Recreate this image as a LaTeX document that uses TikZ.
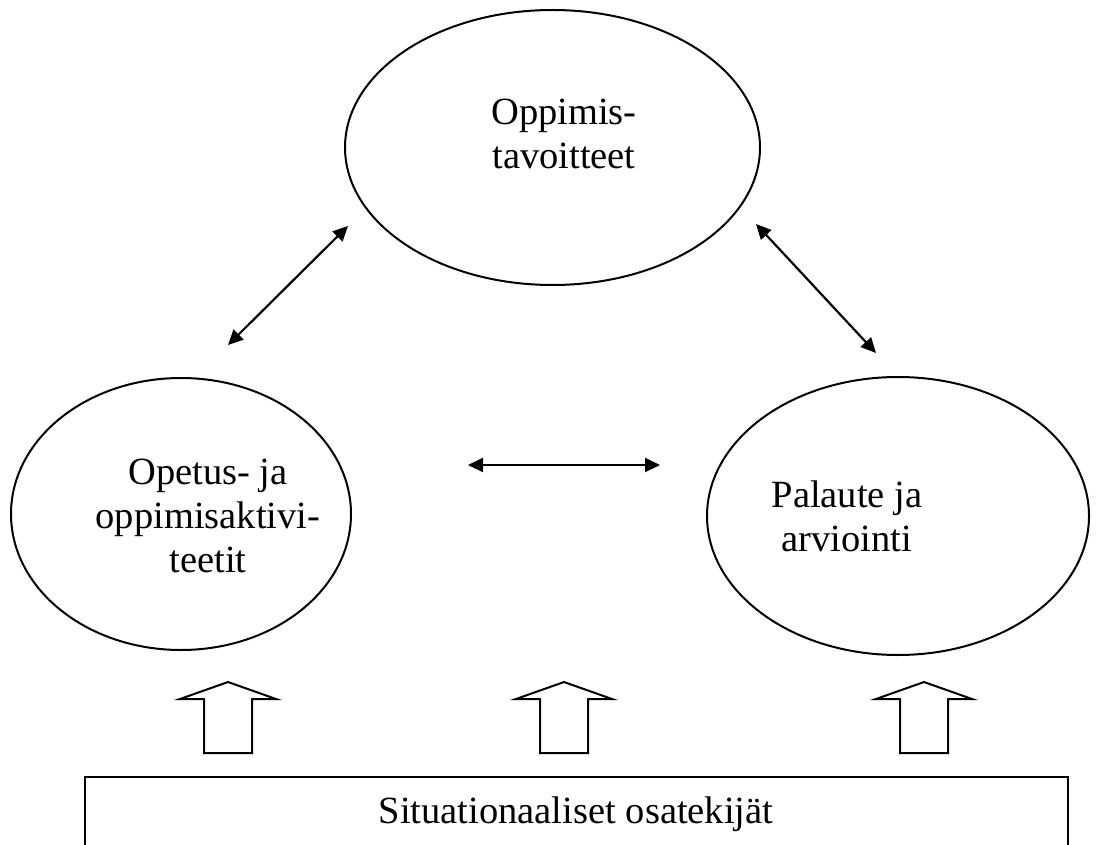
\documentclass[tikz,border=0pt]{standalone}
\usepackage{fontspec}
\setmainfont{Liberation Serif}
\usetikzlibrary{shapes.geometric,arrows.meta}
\tikzset{
  bubble/.style={draw=black, line width=2pt, ellipse, inner sep=0pt},
  label36/.style={font=\fontsize{38.5}{44}\selectfont, align=center, inner sep=0pt},
  dbl/.style={line width=2.2pt, {Triangle[length=15pt,width=14pt]}-{Triangle[length=15pt,width=14pt]}},
  blockarrow/.pic={\draw[line width=2pt, line join=miter] (0,0) -- (48,17) -- (24,17) -- (24,71) -- (-24,71) -- (-24,17) -- (-48,17) -- cycle;}
}
\begin{document}
\begin{tikzpicture}[x=1pt,y=-1pt]
\useasboundingbox (0,0) rectangle (1116,845);
\clip (0,0) rectangle (1116,845);
% ellipses
\node[bubble, minimum width=415pt, minimum height=275pt] (top) at (552.5,147.5) {};
\node[bubble, minimum width=340pt, minimum height=272pt] (left) at (181,514) {};
\node[bubble, minimum width=382pt, minimum height=278pt] (right) at (898,516) {};
% texts
\node[label36] (toptext) at (564,134) {Oppimis-\\tavoitteet};
\node[label36] (lefttext) at (208,516) {Opetus- ja\\oppimisaktivi-\\teetit};
\node[label36] (righttext) at (847,516) {Palaute ja\\arviointi};
% double arrows
\coordinate (a1) at (228,345);
\coordinate (a2) at (348,226);
\coordinate (b1) at (756,224);
\coordinate (b2) at (876,353);
\coordinate (c1) at (468,465);
\coordinate (c2) at (660,465);
\draw[dbl] (a1) -- (a2);
\draw[dbl] (b1) -- (b2);
\draw[dbl] (c1) -- (c2);
% block arrows
\pic at (228,682) {blockarrow};
\pic at (564,682) {blockarrow};
\pic at (924,682) {blockarrow};
% bottom box
\node[draw=black, line width=2.5pt, rectangle, minimum width=983pt, minimum height=140pt, inner sep=0pt] (box) at (576.5,847) {};
\node[font=\fontsize{38.5}{44}\selectfont, inner sep=0pt, anchor=base] (boxtext) at (576,823) {Situationaaliset osatekijät};
\end{tikzpicture}
\end{document}
